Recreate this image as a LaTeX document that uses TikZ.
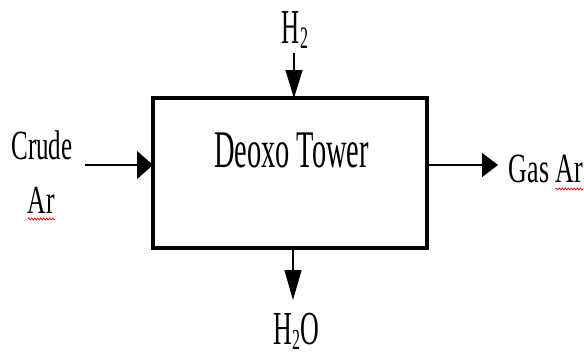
\documentclass[tikz,border=0pt]{standalone}
\usepackage{fontspec}
\setmainfont{Liberation Serif}
\usetikzlibrary{arrows.meta,decorations.pathmorphing}
\newcommand{\stxt}[3]{\scalebox{1}[#2]{\fontsize{#1}{#1}\selectfont #3}}
\newcommand{\subtwo}{\raisebox{-3pt}{\fontsize{16}{16}\selectfont 2}}
\begin{document}
\begin{tikzpicture}[x=1pt,y=-1pt,
  lbl/.style={inner sep=0pt, anchor=base},
  flow/.style={line width=1.2pt},
  squig/.style={red, line width=0.7pt, decorate, decoration={snake, amplitude=1pt, segment length=3pt}}]
\useasboundingbox[fill=white] (0,0) rectangle (584,356);
\node[draw, line width=3.2pt, minimum width=274pt, minimum height=150pt, inner sep=0pt, outer sep=0pt] (box) at (290,173) {};
\node[lbl] (title) at (291.5,167) {\stxt{28.4}{1.86}{Deoxo Tower}};
\node[lbl] (crude) at (42,159) {\stxt{25}{1.66}{Crude}};
\node[lbl] (ar) at (41.5,213) {\stxt{25.6}{1.55}{Ar}};
\node[lbl] (gas) at (546,182) {\stxt{26}{1.6}{Gas Ar}};
\node[lbl] (h2) at (295,43) {\stxt{25}{1.95}{H\subtwo}};
\node[lbl] (h2o) at (296,344) {\stxt{26}{1.82}{H\subtwo O}};
\coordinate (cin) at (85,165);
\coordinate (hin) at (294,53);
\coordinate (gout) at (498,165);
\coordinate (wout) at (293,300);
\draw[flow, -{Triangle[length=16pt,width=28pt]}] (cin) -- (cin -| box.west);
\draw[flow, -{Triangle[length=28pt,width=17pt]}] (hin) -- (hin |- box.north);
\draw[flow, -{Triangle[length=16pt,width=24pt]}] (gout -| box.east) -- (gout);
\draw[flow, -{Triangle[length=30pt,width=17pt]}] (wout |- box.south) -- (wout);
\draw[squig] ([yshift=-6pt]ar.base west) -- ([yshift=-6pt]ar.base east);
\draw[squig] ([xshift=-28pt,yshift=-7pt]gas.base east) -- ([yshift=-7pt]gas.base east);
\end{tikzpicture}
\end{document}
